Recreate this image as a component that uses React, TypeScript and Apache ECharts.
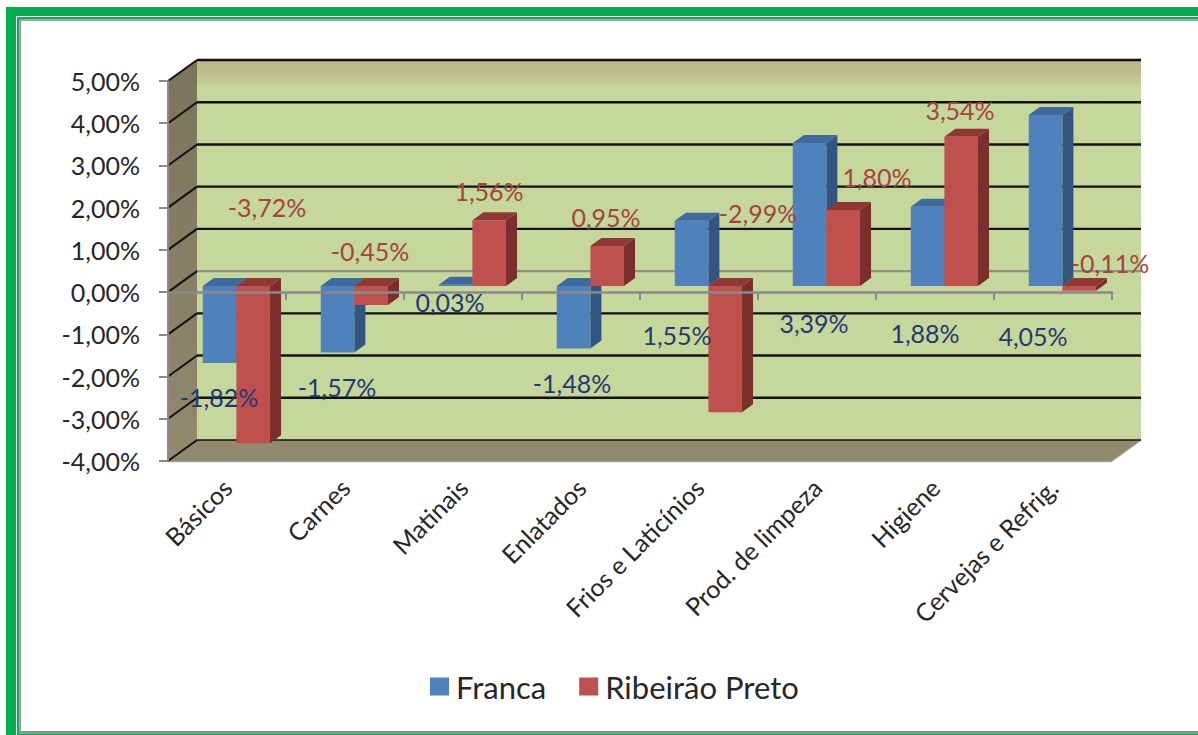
import React, { useEffect, useRef } from "react";
import * as echarts from "echarts";

const categories = ["Básicos", "Carnes", "Matinais", "Enlatados", "Frios e Laticínios", "Prod. de limpeza", "Higiene", "Cervejas e Refrig."];
const franca = [-1.82, -1.57, 0.03, -1.48, 1.55, 3.39, 1.88, 4.05];
const ribeirao = [-3.72, -0.45, 1.56, 0.95, -2.99, 1.8, 3.54, -0.11];
const ticks = [-4, -3, -2, -1, 0, 1, 2, 3, 4, 5];

const FONT = "Lato";
const WALL_DX = 29;
const WALL_DY = -21;
const BAR_DX = 11;
const BAR_DY = -8;
const BAR_SHIFT_X = 9.4;
const BAR_SHIFT_Y = -6;
const BAR_RATIO = 0.285;

const francaLabelOffsets = [[-8, 105], [-8, 95], [-13, 10], [-9, 91], [-22, 43], [-3, 31], [-10, 41], [-20, 44]];
const ribeiraoLabelOffsets = [[40, -85], [25, -41], [26, -101], [25, -75], [59, -79], [60, -115], [25, -182], [57, -29]];

const fmtPct = (v: number) => v.toFixed(2).replace(".", ",") + "%";

function poly(points: number[][], fill: string) {
  return { type: "polygon", shape: { points }, style: { fill, stroke: null }, silent: true };
}

function barRenderer(side: number, colors: { front: string; top: string; side: string }) {
  return (_p: any, api: any) => {
    const cat = api.value(0);
    const val = api.value(1);
    const base = api.coord([cat, 0]);
    const tip = api.coord([cat, val]);
    const w = api.size([1, 0])[0] * BAR_RATIO;
    const x0 = base[0] + BAR_SHIFT_X + (side === 0 ? -w : 0);
    const x1 = x0 + w;
    const yt = Math.min(base[1], tip[1]) + BAR_SHIFT_Y;
    const yb = Math.max(base[1], tip[1]) + BAR_SHIFT_Y;
    return {
      type: "group",
      children: [
        poly([[x1, yt], [x1 + BAR_DX, yt + BAR_DY], [x1 + BAR_DX, yb + BAR_DY], [x1, yb]], colors.side),
        poly([[x0, yt], [x0 + BAR_DX, yt + BAR_DY], [x1 + BAR_DX, yt + BAR_DY], [x1, yt]], colors.top),
        poly([[x0, yt], [x1, yt], [x1, yb], [x0, yb]], colors.front),
      ],
    };
  };
}

function wallRenderer(params: any, api: any) {
  const v = api.value(1);
  const cs = params.coordSys;
  const left = cs.x;
  const right = cs.x + cs.width;
  const top = cs.y;
  const bottom = cs.y + cs.height;
  const y = api.coord([0, v])[1];
  const children: any[] = [];
  if (params.dataIndex === 0) {
    children.push(
      {
        type: "rect",
        shape: { x: left + WALL_DX, y: top + WALL_DY, width: cs.width, height: cs.height },
        style: {
          fill: {
            type: "linear", x: 0, y: 0, x2: 0, y2: 1,
            colorStops: [
              { offset: 0, color: "#beb88a" },
              { offset: 0.03, color: "#bfbb8c" },
              { offset: 0.075, color: "#c6d79b" },
              { offset: 1, color: "#c6d79b" },
            ],
          },
        },
      },
      {
        type: "polygon",
        shape: { points: [[left, top], [left + WALL_DX, top + WALL_DY], [left + WALL_DX, bottom + WALL_DY], [left, bottom]] },
        style: {
          fill: {
            type: "linear", x: 0, y: 0, x2: 0, y2: 1,
            colorStops: [{ offset: 0, color: "#7a745c" }, { offset: 1, color: "#918a6d" }],
          },
        },
      },
      poly([[left, bottom], [left + WALL_DX, bottom + WALL_DY], [right + WALL_DX, bottom + WALL_DY], [right, bottom]], "#918a6d"),
      { type: "line", shape: { x1: left, y1: bottom + 0.5, x2: right, y2: bottom + 0.5 }, style: { stroke: "#9c9c9c", lineWidth: 1.5 } },
      { type: "line", shape: { x1: right, y1: bottom, x2: right + WALL_DX, y2: bottom + WALL_DY }, style: { stroke: "#9c9c9c", lineWidth: 1.5 } },
    );
  }
  const isZero = v === 0;
  const isFloor = v === ticks[0];
  children.push({
    type: "line",
    shape: { x1: left + WALL_DX, y1: y + WALL_DY, x2: right + WALL_DX, y2: y + WALL_DY },
    style: { stroke: isZero ? "#8f8f8f" : "#111111", lineWidth: isFloor ? 1.5 : 2.4 },
  });
  children.push({
    type: "line",
    shape: { x1: left, y1: y, x2: left + WALL_DX, y2: y + WALL_DY },
    style: { stroke: "#111111", lineWidth: 2 },
  });
  return { type: "group", silent: true, children };
}

function labelRenderer(_p: any, api: any) {
  const cat = api.value(0);
  const val = api.value(1);
  const isFranca = api.value(2) === 0;
  const off = (isFranca ? francaLabelOffsets : ribeiraoLabelOffsets)[cat];
  const base = api.coord([cat, 0]);
  return {
    type: "text",
    silent: true,
    x: base[0] + off[0],
    y: base[1] + off[1],
    style: {
      text: fmtPct(val),
      fill: isFranca ? "#1f3a72" : "#a5433f",
      font: `25px ${FONT}`,
      align: "center",
      verticalAlign: "middle",
    },
  };
}

export default function App() {
  const ref = useRef<HTMLDivElement>(null);
  useEffect(() => {
    document.body.style.margin = "0";
    const chart = echarts.init(ref.current!, undefined, { renderer: "svg" });
    const axisGray = "#8a8a8a";
    chart.setOption({
      animation: false,
      backgroundColor: "#ffffff",
      textStyle: { fontFamily: FONT },
      grid: { left: 168, top: 81, width: 944, height: 380, containLabel: false, outerBoundsMode: "none" },
      graphic: [
        { type: "rect", z: 0, silent: true, shape: { x: 6, y: 7, width: 1192, height: 9 }, style: { fill: "#00b050" } },
        { type: "rect", z: 0, silent: true, shape: { x: 6, y: 7, width: 10, height: 728 }, style: { fill: "#00b050" } },
        { type: "rect", z: 0, silent: true, shape: { x: 17, y: 17, width: 1181, height: 2.5 }, style: { fill: "#00b050" } },
        { type: "rect", z: 0, silent: true, shape: { x: 17, y: 17, width: 2.5, height: 718 }, style: { fill: "#00b050" } },
        { type: "rect", z: 0, silent: true, shape: { x: 19.5, y: 19.5, width: 1178.5, height: 1.5 }, style: { fill: "#9a9a9a" } },
        { type: "rect", z: 0, silent: true, shape: { x: 19.5, y: 19.5, width: 1.5, height: 714 }, style: { fill: "#9a9a9a" } },
        { type: "rect", z: 0, silent: true, shape: { x: 19.5, y: 731, width: 1178.5, height: 2.5 }, style: { fill: "#8f8f8f" } },
        { type: "rect", z: 0, silent: true, shape: { x: 17, y: 733.5, width: 1181, height: 1.5 }, style: { fill: "#00b050" } },
      ],
      legend: {
        data: [
          { name: "Franca", itemStyle: { color: "#4f81bd" } },
          { name: "Ribeirão Preto", itemStyle: { color: "#c0504d" } },
        ],
        icon: "rect",
        left: 430,
        top: 671,
        padding: 0,
        itemWidth: 19,
        itemHeight: 18,
        itemGap: 33,
        selectedMode: false,
        textStyle: { fontFamily: FONT, fontSize: 31, color: "#262626", padding: [0, 0, 0, 2] },
      },
      xAxis: {
        type: "category",
        data: categories,
        z: 3,
        axisLine: { show: true, onZero: true, lineStyle: { color: axisGray, width: 2.5 } },
        axisTick: { show: true, length: 8, lineStyle: { color: axisGray, width: 2 } },
        axisLabel: { interval: 0, rotate: 45, margin: 22, fontFamily: FONT, fontSize: 25, color: "#262626" },
        splitLine: { show: false },
      },
      yAxis: {
        type: "value",
        min: -4,
        max: 5,
        interval: 1,
        z: 3,
        axisLine: { show: true, lineStyle: { color: axisGray, width: 2 } },
        axisTick: { show: true, length: 9, lineStyle: { color: axisGray, width: 2 } },
        axisLabel: { margin: 28, fontFamily: FONT, fontSize: 25, color: "#262626", formatter: (v: number) => fmtPct(v) },
        splitLine: { show: false },
      },
      series: [
        {
          type: "custom", name: "walls", z: 1, silent: true, coordinateSystem: "cartesian2d",
          renderItem: wallRenderer,
          encode: { x: 0, y: 1 },
          data: ticks.map((t) => [0, t]),
        },
        {
          type: "custom", name: "Franca", z: 2, silent: true, coordinateSystem: "cartesian2d",
          itemStyle: { color: "#4f81bd" },
          renderItem: barRenderer(0, { front: "#4f81bd", top: "#3f6a9d", side: "#33557f" }),
          encode: { x: 0, y: 1 },
          data: franca.map((v, i) => [i, v]),
        },
        {
          type: "custom", name: "Ribeirão Preto", z: 2, silent: true, coordinateSystem: "cartesian2d",
          itemStyle: { color: "#c0504d" },
          renderItem: barRenderer(1, { front: "#c0504d", top: "#8f3735", side: "#7b2f2d" }),
          encode: { x: 0, y: 1 },
          data: ribeirao.map((v, i) => [i, v]),
        },
        {
          type: "custom", name: "labels", z: 10, silent: true, coordinateSystem: "cartesian2d",
          renderItem: labelRenderer,
          encode: { x: 0, y: 1 },
          data: [...franca.map((v, i) => [i, v, 0]), ...ribeirao.map((v, i) => [i, v, 1])],
        },
      ],
    });
    return () => chart.dispose();
  }, []);
  return <div ref={ref} style={{ position: "absolute", left: 0, top: 0, width: 1198, height: 735, overflow: "hidden" }} />;
}
